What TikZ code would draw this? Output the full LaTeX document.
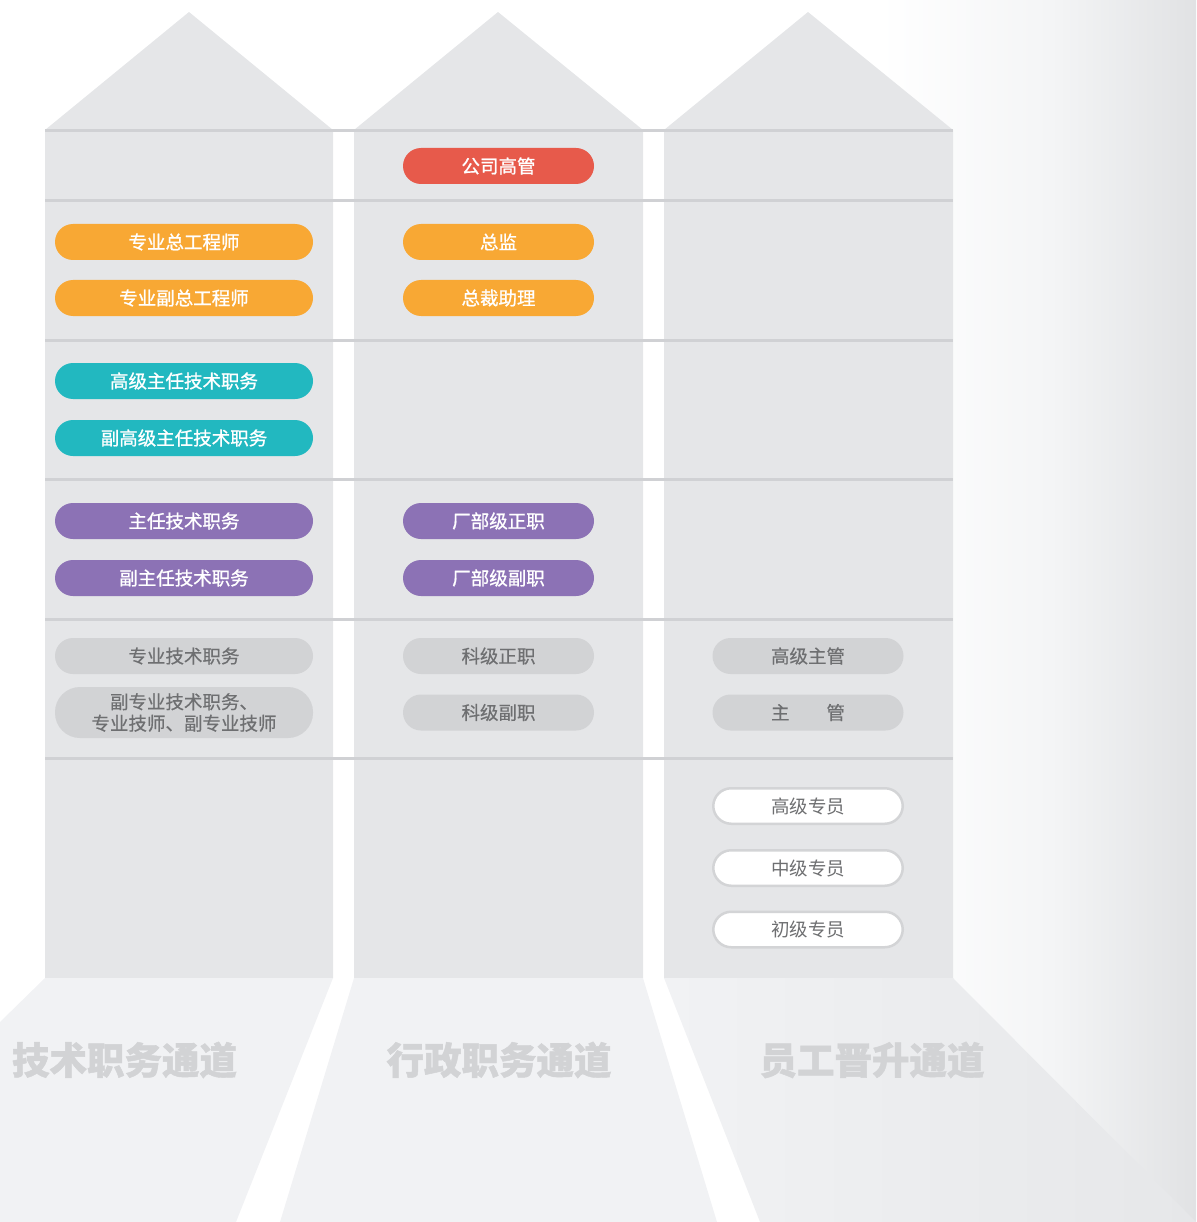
\documentclass[tikz,border=0pt]{standalone}
\usepackage{fontspec}
\setmainfont{Noto Sans CJK SC}[BoldFeatures={FakeBold=1.2}]
\newfontface\medfont{Noto Sans CJK SC}[FakeBold=1.0]
\newfontface\semifont{Noto Sans CJK SC}[FakeBold=0.4]
\definecolor{colfill}{HTML}{E5E6E8}
\definecolor{floorfill}{HTML}{F1F2F4}
\definecolor{floordark}{HTML}{E6E7E9}
\definecolor{rule}{HTML}{D0D1D4}
\definecolor{bgmid}{HTML}{F4F5F6}
\definecolor{bgright}{HTML}{E1E2E4}
\definecolor{cred}{HTML}{E75A4B}
\definecolor{corange}{HTML}{F8A834}
\definecolor{cteal}{HTML}{22B8C0}
\definecolor{cpurple}{HTML}{8C72B5}
\definecolor{cgray}{HTML}{D2D3D5}
\definecolor{cgraytext}{HTML}{6E6F71}
\definecolor{cwhiteborder}{HTML}{D3D4D6}
\definecolor{titlegray}{HTML}{D2D3D5}
\pgfdeclarehorizontalshading{bgshade}{100bp}{color(0bp)=(white); color(25bp)=(white); color(52bp)=(bgmid); color(75bp)=(bgright); color(100bp)=(bgright)}
\tikzset{
  pill/.style={rectangle, rounded corners=18pt, minimum height=36pt, inner sep=0pt,
    font=\fontsize{18.5}{22}\selectfont\medfont, text=white},
  widepill/.style={pill, minimum width=258pt},
  narrowpill/.style={pill, minimum width=191pt},
  redpill/.style={fill=cred},
  orangepill/.style={fill=corange},
  tealpill/.style={fill=cteal},
  purplepill/.style={fill=cpurple},
  graypill/.style={fill=cgray, text=cgraytext, font=\fontsize{18.5}{22}\selectfont\semifont},
  whitepill/.style={pill, fill=white, draw=cwhiteborder, line width=2.5pt,
    minimum width=189.5pt, minimum height=35.5pt, text=cgraytext,
    font=\fontsize{18.5}{22}\selectfont},
  colshape/.style={fill=colfill},
  floorshape/.style={fill=floorfill},
  rowrule/.style={draw=rule, line width=3pt},
  title/.style={font=\fontsize{37.5}{40}\selectfont\bfseries, text=titlegray, inner sep=0pt}
}
\begin{document}
\begin{tikzpicture}[x=1pt,y=-1pt]
\useasboundingbox (0,0) rectangle (1196,1222);
% background gradient
\shade[shading=bgshade] (880,0) rectangle (1196,1222);
% columns with roofs
\foreach \l/\c/\r in {45/189/333, 354/498/643, 664/808/953}{
  \fill[colshape] (\l,130) -- (\c,12) -- (\r,130) -- (\r,978) -- (\l,978) -- cycle;
}
% floors
\fill[floorshape] (45,978) -- (333,978) -- (236,1222) -- (0,1222) -- (0,1022) -- cycle;
\fill[floorshape] (354,978) -- (643,978) -- (717,1222) -- (280,1222) -- cycle;
\shade[left color=floorfill, right color=floordark] (664,978) -- (953,978) -- (1196,1222) -- (760,1222) -- cycle;
% row rules
\foreach \y in {131,201,340,479,619,758}{
  \draw[rowrule] (45,\y) -- (953,\y);
}
% column 1
\node[widepill, orangepill] (t1) at (184,242) {专业总工程师};
\node[widepill, orangepill] (t2) at (184,298) {专业副总工程师};
\node[widepill, tealpill] (t3) at (184,381) {高级主任技术职务};
\node[widepill, tealpill] (t4) at (184,438) {副高级主任技术职务};
\node[widepill, purplepill] (t5) at (184,521) {主任技术职务};
\node[widepill, purplepill] (t6) at (184,578) {副主任技术职务};
\node[widepill, graypill] (t7) at (184,656) {专业技术职务};
\node[widepill, graypill, minimum height=51pt, rounded corners=25pt, align=center,
  font=\fontsize{18.5}{21.5}\selectfont\semifont] (t8) at (184,712.5) {副专业技术职务、\\专业技师、副专业技师};
% column 2
\node[narrowpill, redpill] (a1) at (498.5,166) {公司高管};
\node[narrowpill, orangepill] (a2) at (498.5,242) {总监};
\node[narrowpill, orangepill] (a3) at (498.5,298) {总裁助理};
\node[narrowpill, purplepill] (a4) at (498.5,521) {厂部级正职};
\node[narrowpill, purplepill] (a5) at (498.5,578) {厂部级副职};
\node[narrowpill, graypill] (a6) at (498.5,656) {科级正职};
\node[narrowpill, graypill] (a7) at (498.5,712.5) {科级副职};
% column 3
\node[narrowpill, graypill] (s1) at (808,656) {高级主管};
\node[narrowpill, graypill] (s2) at (808,712.5) {主\hspace{37pt}管};
\node[whitepill] (s3) at (808,806) {高级专员};
\node[whitepill] (s4) at (808,868) {中级专员};
\node[whitepill] (s5) at (808,929.5) {初级专员};
% titles
\node[title] (n1) at (124.5,1060) {技术职务通道};
\node[title] (n2) at (499,1060) {行政职务通道};
\node[title] (n3) at (872,1060) {员工晋升通道};
\end{tikzpicture}
\end{document}
